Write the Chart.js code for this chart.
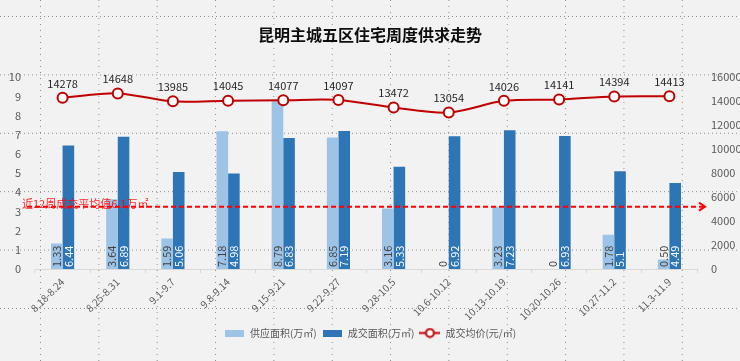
<!DOCTYPE html>
<html lang="zh-CN">
<head>
  <meta charset="UTF-8" />
  <title>昆明主城五区住宅周度供求走势</title>
  <style>
    html, body {
      margin: 0;
      padding: 0;
      width: 740px;
      height: 361px;
      overflow: hidden;
    }
    body {
      background-color: #f2f2f2;
      /* worksheet cell gridlines showing through the chart */
      background-image:
        radial-gradient(circle at 0.5px 0.5px, #8c8c8c 0.6px, transparent 0.9px),
        radial-gradient(circle at 0.5px 0.5px, #8c8c8c 0.6px, transparent 0.9px);
      background-size: 58.35px 6px, 4px 58.4px;
      background-position: 40px 0, 0 16px;
    }
    .wrap {
      position: relative;
      width: 740px;
      height: 361px;
    }
  </style>
</head>
<body>
  <div class="wrap">
    <canvas id="supplyChart" width="740" height="361"></canvas>
  </div>

  <script src="https://cdn.jsdelivr.net/npm/chart.js"></script>
  <script>
    const weeks = ['8.18-8.24', '8.25-8.31', '9.1-9.7', '9.8-9.14', '9.15-9.21', '9.22-9.27',
      '9.28-10.5', '10.6-10.12', '10.13-10.19', '10.20-10.26', '10.27-11.2', '11.3-11.9'];
    const supplyArea = [1.33, 3.64, 1.59, 7.18, 8.79, 6.85, 3.16, 0, 3.23, 0, 1.78, 0.50];
    const dealArea = [6.44, 6.89, 5.06, 4.98, 6.83, 7.19, 5.33, 6.92, 7.23, 6.93, 5.1, 4.49];
    const avgPrice = [14278, 14648, 13985, 14045, 14077, 14097, 13472, 13054, 14026, 14141, 14394, 14413];
    const areaTicks = [0, 10, 1];       // min, max, step (万㎡)
    const priceTicks = [0, 16000, 2000]; // min, max, step (元/㎡)
    // the red reference line sits at this level of the left axis in the original
    const avgLineLevel = 3.25;
    const avgLineText = '近12周成交平均值6.1万㎡';

    const LIGHT = '#9dc3e6';
    const DARK = '#2e75b6';
    const RED = '#c00000';
    const GREY = '#595959';

    Chart.defaults.font.family = "'Noto Sans CJK SC', 'Noto Sans', sans-serif";
    Chart.defaults.color = GREY;

    function makeIcon(w, h, draw) {
      const c = document.createElement('canvas');
      c.width = w;
      c.height = h;
      draw(c.getContext('2d'));
      return c;
    }
    const legendIcons = [
      makeIcon(19, 7, g => { g.fillStyle = LIGHT; g.fillRect(0, 0, 19, 7); }),
      makeIcon(19, 7, g => { g.fillStyle = DARK; g.fillRect(0, 0, 19, 7); }),
      makeIcon(21, 11, g => {
        g.strokeStyle = RED; g.lineWidth = 2;
        g.beginPath(); g.moveTo(0, 5.5); g.lineTo(21, 5.5); g.stroke();
        g.fillStyle = '#fff';
        g.beginPath(); g.arc(10.5, 5.5, 4, 0, Math.PI * 2); g.fill(); g.stroke();
      })
    ];

    // value labels for bars and line points
    const valueLabels = {
      id: 'valueLabels',
      afterDatasetsDraw(chart) {
        const ctx = chart.ctx;
        ctx.save();
        ctx.font = "11px 'Noto Sans CJK SC', 'Noto Sans', sans-serif";
        [0, 1].forEach(di => {
          const meta = chart.getDatasetMeta(di);
          const vals = chart.data.datasets[di].data;
          meta.data.forEach((bar, i) => {
            const v = vals[i];
            const txt = di === 0 ? (v ? v.toFixed(2) : '0') : String(v);
            ctx.save();
            ctx.translate(bar.x, bar.base - 2);
            ctx.rotate(-Math.PI / 2);
            ctx.textAlign = 'left';
            ctx.textBaseline = 'middle';
            ctx.fillStyle = di === 0 ? '#404040' : '#ffffff';
            ctx.fillText(txt, 0, 0);
            ctx.restore();
          });
        });
        const lineMeta = chart.getDatasetMeta(2);
        ctx.textAlign = 'center';
        ctx.textBaseline = 'bottom';
        ctx.fillStyle = '#262626';
        lineMeta.data.forEach((pt, i) => {
          ctx.fillText(String(avgPrice[i]), pt.x, pt.y - 9);
        });
        ctx.restore();
      }
    };

    // dashed average line with arrow and its caption
    const avgLine = {
      id: 'avgLine',
      afterDraw(chart) {
        const ctx = chart.ctx;
        const area = chart.chartArea;
        const y = chart.scales.y.getPixelForValue(avgLineLevel);
        const x0 = area.left - 8;
        const x1 = area.right + 8;
        ctx.save();
        ctx.strokeStyle = '#ff0000';
        ctx.lineWidth = 2;
        ctx.setLineDash([5, 3]);
        ctx.beginPath();
        ctx.moveTo(x0, y);
        ctx.lineTo(x1 - 2, y);
        ctx.stroke();
        ctx.setLineDash([]);
        ctx.beginPath();
        ctx.moveTo(x1 - 6, y - 4);
        ctx.lineTo(x1, y);
        ctx.lineTo(x1 - 6, y + 4);
        ctx.stroke();
        ctx.font = "11px 'Noto Sans CJK SC', 'Noto Sans', sans-serif";
        ctx.fillStyle = 'rgba(255, 0, 0, 0.85)';
        ctx.textAlign = 'left';
        ctx.textBaseline = 'middle';
        ctx.fillText(avgLineText, area.left - 13, y - 3);
        ctx.restore();
      }
    };

    const chartCtx = document.getElementById('supplyChart').getContext('2d');
    const supplyChart = new Chart(chartCtx, {
      type: 'bar',
      data: {
        labels: weeks,
        datasets: [
          {
            label: '供应面积(万㎡)',
            data: supplyArea,
            backgroundColor: LIGHT,
            yAxisID: 'y',
            order: 1
          },
          {
            label: '成交面积(万㎡)',
            data: dealArea,
            backgroundColor: DARK,
            yAxisID: 'y',
            order: 2
          },
          {
            type: 'line',
            label: '成交均价(元/㎡)',
            data: avgPrice,
            borderColor: RED,
            borderWidth: 2,
            pointRadius: 5,
            pointHoverRadius: 5,
            pointBorderWidth: 2,
            pointBackgroundColor: '#ffffff',
            pointBorderColor: RED,
            tension: 0.3,
            yAxisID: 'y1',
            order: 0
          }
        ]
      },
      options: {
        responsive: false,
        animation: false,
        events: [],
        categoryPercentage: 0.42,
        barPercentage: 1,
        layout: { padding: { left: 0, right: 0, top: 0, bottom: 13 } },
        scales: {
          x: {
            offset: true,
            grid: {
              offset: true,
              drawOnChartArea: false,
              color: '#d9d9d9',
              tickLength: 4
            },
            border: { color: '#d9d9d9' },
            ticks: {
              color: GREY,
              font: { size: 10 },
              minRotation: 45,
              maxRotation: 45,
              autoSkip: false
            },
            afterFit(scale) { scale.height = 54; }
          },
          y: {
            position: 'left',
            min: areaTicks[0],
            max: areaTicks[1],
            grid: { display: false },
            border: { display: false },
            ticks: { stepSize: areaTicks[2], color: GREY, font: { size: 11 }, padding: 6 },
            afterFit(scale) { scale.width = 35; }
          },
          y1: {
            position: 'right',
            min: priceTicks[0],
            max: priceTicks[1],
            grid: { display: false },
            border: { display: false },
            ticks: {
              stepSize: priceTicks[2],
              color: GREY,
              font: { size: 11 },
              padding: 6,
              callback: v => String(v)
            },
            afterFit(scale) { scale.width = 43; }
          }
        },
        plugins: {
          title: {
            display: true,
            text: '昆明主城五区住宅周度供求走势',
            color: '#0d0d0d',
            font: { size: 16, weight: 'bold' },
            padding: { top: 25, bottom: 33 }
          },
          legend: {
            position: 'bottom',
            labels: {
              color: GREY,
              font: { size: 10 },
              usePointStyle: true,
              pointStyleWidth: 21,
              boxHeight: 11,
              padding: 5,
              sort: (a, b) => a.datasetIndex - b.datasetIndex,
              generateLabels(chart) {
                const items = Chart.defaults.plugins.legend.labels.generateLabels(chart);
                items.forEach(it => { it.pointStyle = legendIcons[it.datasetIndex]; });
                return items;
              }
            }
          },
          tooltip: { enabled: false }
        }
      },
      plugins: [valueLabels, avgLine]
    });
  </script>
</body>
</html>
